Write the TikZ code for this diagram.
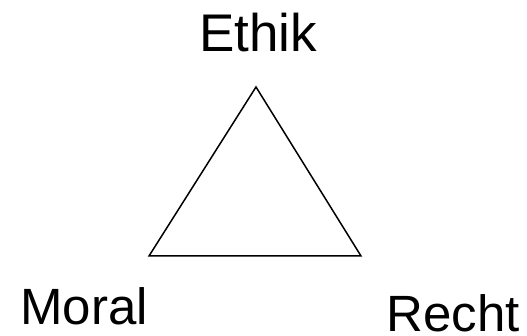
\documentclass[tikz,border=0pt]{standalone}
\usepackage{fontspec}
\setmainfont{Liberation Sans}
\usetikzlibrary{positioning}

\begin{document}
\begin{tikzpicture}[
  x=1pt, y=-1pt,
  corner/.style={font=\fontsize{51}{54}\selectfont, anchor=base, inner sep=0pt},
  edge/.style={draw=black, line width=1.5pt, line join=miter}
]
\useasboundingbox (0,0) rectangle (527,336);
\coordinate (top) at (256,87);
\coordinate (left) at (149,256);
\coordinate (right) at (361,256);

\node[corner, font=\fontsize{53}{56}\selectfont] (ethik) at (258,52) {Ethik};
\node[corner] (moral) at (84,325) {Moral};
\node[corner] (recht) at (453,331) {Recht};

\draw[edge] (top) -- (left) -- (right) -- cycle;
\end{tikzpicture}
\end{document}
